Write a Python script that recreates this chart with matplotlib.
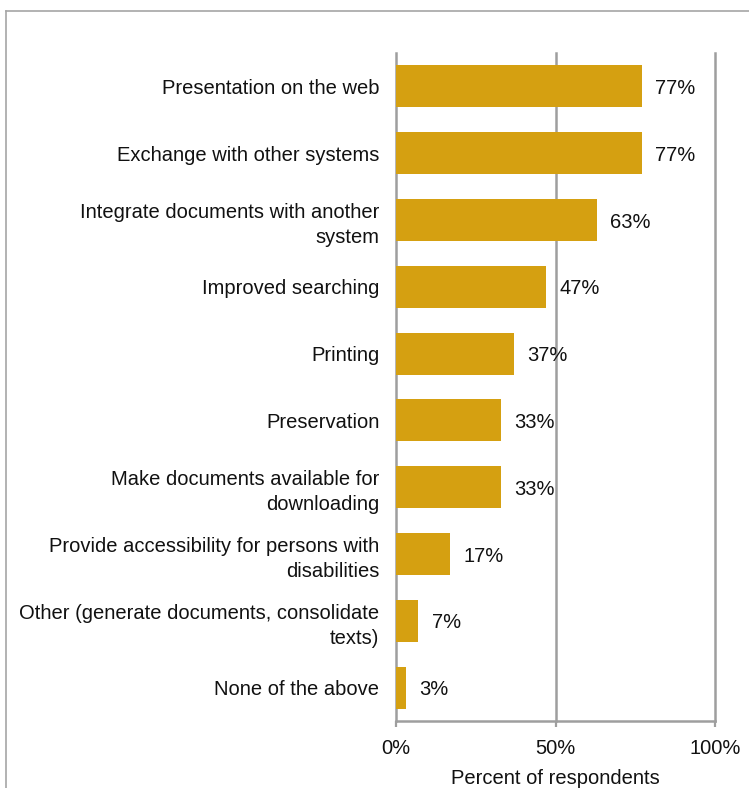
import matplotlib.pyplot as plt
from matplotlib.lines import Line2D

plt.rcParams['font.family'] = ['Liberation Sans', 'DejaVu Sans']

categories = [
    "Presentation on the web",
    "Exchange with other systems",
    "Integrate documents with another\nsystem",
    "Improved searching",
    "Printing",
    "Preservation",
    "Make documents available for\ndownloading",
    "Provide accessibility for persons with\ndisabilities",
    "Other (generate documents, consolidate\ntexts)",
    "None of the above",
]
percent = [77, 77, 63, 47, 37, 33, 33, 17, 7, 3]
xticks = [0, 50, 100]
xtick_labels = ["0%", "50%", "100%"]

bar_color = '#D5A011'
grid_color = '#9E9E9E'
fs = 14.5

fig = plt.figure(figsize=(7.49, 7.88), dpi=100)
ax = fig.add_axes([396 / 749, 1 - 721 / 788, 319 / 749, 668 / 788])

ypos = list(range(len(categories)))
ax.barh(ypos, percent, height=0.63, color=bar_color, zorder=3)

for y, v in zip(ypos, percent):
    ax.annotate(f"{v}%", xy=(v, y), xytext=(9.5, -1.5), textcoords='offset points',
                va='center', ha='left', fontsize=fs, color='#111111', zorder=4)

ax.set_xlim(0, 100)
ax.set_ylim(len(categories) - 0.5, -0.5)
ax.set_yticks(ypos)
ax.set_yticklabels(categories, fontsize=fs, color='#111111', multialignment='right',
                   linespacing=1.4)
ax.tick_params(axis='y', length=0, pad=12)

ax.set_xticks(xticks)
ax.set_xticklabels(xtick_labels, fontsize=fs, color='#111111')
ax.tick_params(axis='x', length=4, width=1.6, color=grid_color, pad=9)
ax.set_xlabel("Percent of respondents", fontsize=fs, color='#111111', labelpad=8)

ax.grid(axis='x', color=grid_color, linewidth=1.8, zorder=0)
for gl in ax.get_xgridlines():
    gl.set_clip_on(False)
for side in ['top', 'right', 'left']:
    ax.spines[side].set_visible(False)
ax.spines['bottom'].set_color(grid_color)
ax.spines['bottom'].set_linewidth(1.8)

# outer frame, open at the right and bottom
fx = 6 / 749
fy = 1 - 11 / 788
fig.add_artist(Line2D([fx, fx], [0, fy], color='#A6A6A6', lw=1.2, transform=fig.transFigure))
fig.add_artist(Line2D([fx, 1], [fy, fy], color='#A6A6A6', lw=1.2, transform=fig.transFigure))

fig.savefig('out.png', dpi=100)
